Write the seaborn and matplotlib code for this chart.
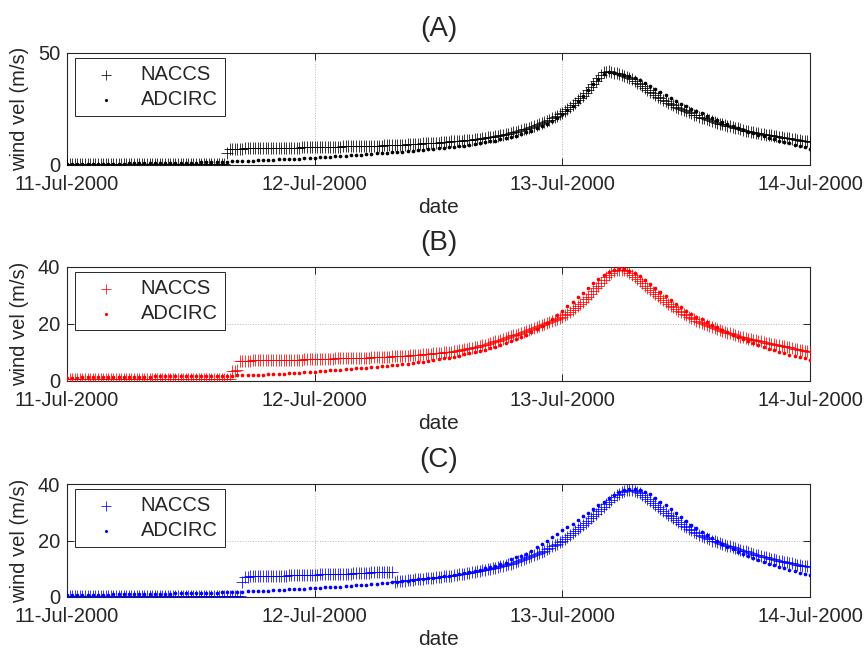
import numpy as np
import pandas as pd
import matplotlib
matplotlib.use("Agg")
import matplotlib.pyplot as plt
import seaborn as sns

# ---------------- data ----------------
# NACCS: 15-min samples, ADCIRC: 30-min samples, 11-Jul-2000 00:00 .. 14-Jul-2000 00:00
start_time = "2000-07-11 00:00"
panel_titles = ["(A)", "(B)", "(C)"]
series_labels = ["NACCS", "ADCIRC"]
x_tick_labels = ["11-Jul-2000", "12-Jul-2000", "13-Jul-2000", "14-Jul-2000"]

naccs_a = [
    0.5, 0.5, 0.5, 0.5, 0.5, 0.5, 0.5, 0.5, 0.5, 0.5, 0.5, 0.5,
    0.5, 0.5, 0.5, 0.5, 0.5, 0.5, 0.5, 0.5, 0.5, 0.5, 0.5, 0.5,
    0.5, 0.5, 0.5, 0.5, 0.5, 0.5, 0.5, 0.5, 0.5, 0.5, 0.5, 0.5,
    0.5, 0.5, 0.5, 0.5, 0.5, 0.5, 0.5, 0.5, 0.5, 0.5, 0.5, 0.5,
    0.5, 0.5, 0.5, 0.5, 0.5, 0.5, 0.5, 0.5, 0.5, 0.5, 0.5, 0.5,
    0.5, 0.5, 5.4, 7.2, 7.2, 7.3, 7.3, 7.3, 7.3, 7.4, 7.4, 7.4,
    7.4, 7.5, 7.5, 7.5, 7.5, 7.5, 7.5, 7.6, 7.6, 7.6, 7.6, 7.7,
    7.7, 7.7, 7.7, 7.8, 7.8, 7.8, 7.8, 7.9, 7.9, 7.9, 7.9, 8.0,
    8.0, 8.0, 8.0, 8.1, 8.1, 8.1, 8.1, 8.2, 8.2, 8.2, 8.2, 8.3,
    8.3, 8.3, 8.3, 8.4, 8.4, 8.4, 8.4, 8.5, 8.5, 8.5, 8.5, 8.6,
    8.6, 8.65, 8.7, 8.75, 8.8, 8.85, 8.9, 8.95, 9.0, 9.05, 9.1, 9.15,
    9.2, 9.25, 9.3, 9.4, 9.5, 9.55, 9.6, 9.65, 9.7, 9.8, 9.9, 9.95,
    10.0, 10.1, 10.2, 10.3, 10.4, 10.5, 10.6, 10.7, 10.8, 10.9, 11.0, 11.1,
    11.2, 11.35, 11.5, 11.65, 11.8, 11.95, 12.1, 12.3, 12.5, 12.7, 12.9, 13.1,
    13.3, 13.55, 13.8, 14.05, 14.3, 14.6, 14.9, 15.2, 15.5, 15.85, 16.2, 16.6,
    17.0, 17.4, 17.8, 18.25, 18.7, 19.2, 19.7, 20.25, 20.8, 21.4, 22.0, 22.7,
    23.4, 24.2, 25.0, 25.9, 26.8, 27.8, 28.8, 29.9, 31.0, 32.2, 33.5, 34.8,
    36.2, 37.6, 39.0, 40.3, 41.5, 41.7, 41.8, 41.5, 41.2, 40.9, 40.6, 40.2,
    39.8, 39.3, 38.8, 38.2, 37.5, 36.8, 36.0, 35.2, 34.4, 33.6, 32.8, 32.0,
    31.2, 30.5, 29.8, 29.1, 28.4, 27.8, 27.2, 26.6, 26.0, 25.5, 25.0, 24.5,
    24.0, 23.5, 23.0, 22.5, 22.1, 21.6, 21.2, 20.8, 20.4, 20.0, 19.6, 19.2,
    18.9, 18.5, 18.2, 17.8, 17.5, 17.2, 16.9, 16.6, 16.3, 16.0, 15.7, 15.4,
    15.2, 14.9, 14.7, 14.4, 14.2, 14.0, 13.8, 13.6, 13.4, 13.2, 13.0, 12.8,
    12.6, 12.4, 12.2, 12.0, 11.9, 11.7, 11.5, 11.3, 11.1, 10.9, 10.8, 10.6,
    10.4,
]
adcirc_a = [
    0.4, 0.4, 0.4, 0.4, 0.5, 0.5, 0.5, 0.5, 0.6, 0.6,
    0.6, 0.6, 0.7, 0.7, 0.7, 0.8, 0.8, 0.8, 0.9, 0.9,
    0.9, 1.0, 1.0, 1.0, 1.1, 1.1, 1.2, 1.2, 1.2, 1.3,
    1.4, 1.5, 1.6, 1.7, 1.8, 1.9, 2.0, 2.1, 2.2, 2.3,
    2.4, 2.5, 2.6, 2.7, 2.8, 2.9, 3.0, 3.1, 3.3, 3.4,
    3.6, 3.7, 3.9, 4.0, 4.2, 4.3, 4.5, 4.6, 4.8, 5.0,
    5.2, 5.3, 5.5, 5.7, 5.9, 6.0, 6.2, 6.4, 6.6, 6.8,
    7.0, 7.2, 7.4, 7.6, 7.9, 8.1, 8.4, 8.7, 9.0, 9.3,
    9.7, 10.1, 10.5, 10.9, 11.4, 11.9, 12.5, 13.1, 13.8, 14.6,
    15.4, 16.4, 17.4, 18.5, 19.8, 21.2, 22.8, 24.5, 26.5, 28.7,
    31.0, 33.5, 36.0, 38.5, 40.5, 41.3, 41.0, 40.6, 40.2, 39.7,
    39.0, 38.0, 36.8, 35.4, 34.0, 32.6, 31.2, 29.8, 28.5, 27.3,
    26.2, 25.1, 24.0, 23.0, 22.0, 21.0, 20.0, 19.1, 18.2, 17.3,
    16.5, 15.7, 14.9, 14.2, 13.5, 12.8, 12.1, 11.5, 10.9, 10.3,
    9.7, 9.1, 8.5, 8.0, 7.2,
]
naccs_b = [
    0.6, 0.6, 0.6, 0.6, 0.6, 0.6, 0.6, 0.6, 0.6, 0.6, 0.6, 0.6,
    0.6, 0.6, 0.6, 0.6, 0.6, 0.6, 0.6, 0.6, 0.6, 0.6, 0.6, 0.6,
    0.6, 0.6, 0.6, 0.6, 0.6, 0.6, 0.6, 0.6, 0.6, 0.6, 0.6, 0.6,
    0.6, 0.6, 0.6, 0.6, 0.6, 0.6, 0.6, 0.6, 0.6, 0.6, 0.6, 0.6,
    0.6, 0.6, 0.6, 0.6, 0.6, 0.6, 0.6, 0.6, 0.6, 0.6, 0.6, 0.6,
    0.6, 0.6, 0.6, 0.6, 3.4, 3.6, 4.0, 7.0, 7.0, 7.1, 7.1, 7.1,
    7.2, 7.2, 7.2, 7.2, 7.3, 7.3, 7.3, 7.3, 7.3, 7.3, 7.4, 7.4,
    7.4, 7.4, 7.5, 7.5, 7.5, 7.5, 7.5, 7.5, 7.6, 7.6, 7.6, 7.6,
    7.7, 7.7, 7.7, 7.7, 7.8, 7.8, 7.8, 7.8, 7.9, 7.9, 7.9, 7.9,
    8.0, 8.0, 8.0, 8.0, 8.1, 8.1, 8.1, 8.1, 8.2, 8.2, 8.25, 8.3,
    8.3, 8.35, 8.4, 8.45, 8.5, 8.55, 8.6, 8.65, 8.7, 8.75, 8.8, 8.85,
    8.9, 8.95, 9.0, 9.1, 9.2, 9.25, 9.3, 9.4, 9.5, 9.6, 9.65, 9.7,
    9.8, 9.9, 10.0, 10.1, 10.2, 10.35, 10.5, 10.65, 10.8, 10.95, 11.1, 11.3,
    11.5, 11.7, 11.9, 12.1, 12.3, 12.55, 12.8, 13.05, 13.3, 13.6, 13.9, 14.2,
    14.5, 14.8, 15.1, 15.4, 15.7, 16.0, 16.3, 16.65, 17.0, 17.35, 17.7, 18.05,
    18.4, 18.7, 19.0, 19.3, 19.6, 19.95, 20.3, 20.65, 21.0, 21.4, 21.8, 22.2,
    22.6, 23.1, 23.6, 24.2, 24.8, 25.5, 26.2, 27.0, 27.8, 28.7, 29.6, 30.5,
    31.5, 32.5, 33.5, 34.5, 35.5, 36.4, 37.2, 37.9, 38.5, 38.9, 39.1, 39.1,
    38.9, 38.5, 38.0, 37.3, 36.6, 35.9, 35.1, 34.3, 33.5, 32.7, 32.0, 31.3,
    30.6, 29.9, 29.2, 28.5, 27.8, 27.1, 26.4, 25.8, 25.2, 24.6, 24.1, 23.6,
    23.1, 22.6, 22.1, 21.6, 21.2, 20.8, 20.4, 20.0, 19.6, 19.2, 18.9, 18.6,
    18.2, 17.9, 17.6, 17.3, 17.0, 16.7, 16.4, 16.1, 15.8, 15.5, 15.3, 15.1,
    14.9, 14.7, 14.5, 14.3, 14.1, 13.9, 13.7, 13.5, 13.3, 13.1, 12.9, 12.8,
    12.6, 12.4, 12.2, 12.0, 11.8, 11.6, 11.4, 11.2, 11.0, 10.8, 10.6, 10.45,
    10.3,
]
adcirc_b = [
    1.2, 1.2, 1.2, 1.3, 1.3, 1.3, 1.3, 1.4, 1.4, 1.4,
    1.4, 1.4, 1.5, 1.5, 1.5, 1.5, 1.5, 1.6, 1.6, 1.6,
    1.6, 1.6, 1.6, 1.7, 1.7, 1.7, 1.7, 1.8, 1.8, 1.8,
    1.8, 1.9, 1.9, 2.0, 2.0, 2.1, 2.1, 2.2, 2.2, 2.3,
    2.4, 2.5, 2.6, 2.7, 2.8, 2.9, 3.0, 3.1, 3.3, 3.4,
    3.6, 3.7, 3.9, 4.0, 4.2, 4.3, 4.4, 4.6, 4.7, 4.8,
    4.9, 5.1, 5.3, 5.5, 5.7, 5.9, 6.1, 6.3, 6.5, 6.8,
    7.0, 7.3, 7.6, 7.9, 8.2, 8.5, 8.9, 9.3, 9.7, 10.1,
    10.5, 11.0, 11.5, 12.0, 12.6, 13.2, 13.9, 14.6, 15.4, 16.2,
    17.2, 18.2, 19.3, 20.5, 21.8, 23.2, 24.7, 26.2, 27.8, 29.4,
    31.0, 32.7, 34.3, 35.8, 37.1, 38.2, 39.0, 39.5, 39.3, 38.7,
    37.8, 36.7, 35.4, 34.0, 32.6, 31.2, 29.8, 28.4, 27.1, 25.9,
    24.7, 23.6, 22.6, 21.6, 20.7, 19.8, 18.9, 18.0, 17.1, 16.3,
    15.5, 14.7, 14.0, 13.3, 12.6, 12.0, 11.4, 10.8, 10.3, 9.8,
    9.2, 8.7, 8.3, 7.9, 7.4,
]
naccs_c = [
    0.5, 0.5, 0.5, 0.5, 0.5, 0.5, 0.5, 0.5, 0.5, 0.5, 0.5, 0.5,
    0.5, 0.5, 0.5, 0.5, 0.5, 0.5, 0.5, 0.5, 0.5, 0.5, 0.5, 0.5,
    0.5, 0.5, 0.5, 0.5, 0.5, 0.5, 0.5, 0.5, 0.5, 0.5, 0.5, 0.5,
    0.5, 0.5, 0.5, 0.5, 0.5, 0.5, 0.5, 0.5, 0.5, 0.5, 0.5, 0.5,
    0.5, 0.5, 0.5, 0.5, 0.5, 0.5, 0.5, 0.5, 0.5, 0.5, 0.5, 0.5,
    0.5, 0.5, 0.5, 0.5, 0.5, 0.5, 0.5, 0.5, 5.4, 7.2, 7.2, 7.3,
    7.3, 7.3, 7.4, 7.4, 7.4, 7.4, 7.5, 7.5, 7.5, 7.5, 7.6, 7.6,
    7.6, 7.6, 7.7, 7.7, 7.7, 7.7, 7.8, 7.8, 7.8, 7.8, 7.9, 7.9,
    7.9, 7.9, 8.0, 8.0, 8.0, 8.0, 8.1, 8.1, 8.1, 8.1, 8.2, 8.2,
    8.2, 8.25, 8.3, 8.35, 8.4, 8.45, 8.5, 8.55, 8.6, 8.65, 8.7, 8.75,
    8.8, 8.85, 8.9, 8.95, 9.0, 9.0, 9.0, 5.4, 5.5, 5.6, 5.7, 5.8,
    5.9, 6.0, 6.1, 6.2, 6.3, 6.4, 6.5, 6.6, 6.7, 6.8, 6.9, 7.0,
    7.1, 7.2, 7.3, 7.4, 7.5, 7.6, 7.7, 7.85, 8.0, 8.15, 8.3, 8.45,
    8.6, 8.75, 8.9, 9.05, 9.2, 9.4, 9.6, 9.8, 10.0, 10.2, 10.4, 10.6,
    10.8, 11.05, 11.3, 11.55, 11.8, 12.1, 12.4, 12.7, 13.0, 13.35, 13.7, 14.05,
    14.4, 14.8, 15.2, 15.6, 16.0, 16.45, 16.9, 17.4, 17.9, 18.4, 18.9, 19.45,
    20.0, 20.6, 21.2, 21.85, 22.5, 23.2, 23.9, 24.65, 25.4, 26.2, 27.0, 27.8,
    28.6, 29.45, 30.3, 31.15, 32.0, 32.85, 33.7, 34.5, 35.3, 36.0, 36.6, 37.1,
    37.5, 37.8, 37.9, 37.8, 37.6, 37.2, 36.7, 36.1, 35.5, 34.8, 34.1, 33.4,
    32.7, 32.0, 31.3, 30.6, 29.9, 29.2, 28.5, 27.8, 27.1, 26.5, 25.9, 25.3,
    24.7, 24.1, 23.6, 23.1, 22.6, 22.1, 21.6, 21.2, 20.8, 20.4, 20.0, 19.7,
    19.4, 19.1, 18.8, 18.5, 18.2, 17.9, 17.6, 17.3, 17.0, 16.7, 16.45, 16.2,
    15.9, 15.6, 15.3, 15.0, 14.75, 14.5, 14.25, 14.0, 13.75, 13.5, 13.3, 13.1,
    12.9, 12.7, 12.5, 12.3, 12.1, 11.9, 11.7, 11.5, 11.3, 11.1, 10.9, 10.8,
    10.7,
]
adcirc_c = [
    0.6, 0.6, 0.6, 0.7, 0.7, 0.7, 0.8, 0.8, 0.8, 0.9,
    0.9, 0.9, 1.0, 1.0, 1.0, 1.1, 1.1, 1.1, 1.2, 1.2,
    1.2, 1.3, 1.3, 1.3, 1.4, 1.4, 1.4, 1.5, 1.5, 1.5,
    1.6, 1.6, 1.7, 1.8, 1.9, 2.0, 2.0, 2.1, 2.2, 2.3,
    2.4, 2.5, 2.6, 2.7, 2.8, 2.9, 3.0, 3.1, 3.2, 3.3,
    3.4, 3.5, 3.6, 3.7, 3.9, 4.0, 4.1, 4.2, 4.4, 4.5,
    4.7, 4.8, 5.0, 5.2, 5.4, 5.6, 5.8, 6.0, 6.2, 6.4,
    6.6, 6.8, 7.0, 7.3, 7.6, 7.9, 8.2, 8.5, 8.9, 9.3,
    9.7, 10.1, 10.6, 11.1, 11.6, 12.2, 13.4, 14.0, 14.6, 15.2,
    16.4, 17.6, 18.8, 20.0, 21.2, 22.4, 23.6, 24.8, 26.0, 27.2,
    28.5, 29.8, 31.1, 32.4, 33.7, 34.9, 36.0, 37.0, 37.8, 38.3,
    38.4, 38.0, 37.3, 36.3, 35.1, 33.8, 32.4, 31.0, 29.6, 28.2,
    26.8, 25.5, 24.3, 23.1, 22.0, 20.9, 19.8, 18.8, 17.8, 16.9,
    16.0, 15.2, 14.4, 13.7, 13.0, 12.4, 11.8, 11.2, 10.6, 10.1,
    9.6, 9.1, 8.6, 8.2, 7.8,
]

panel_naccs = [naccs_a, naccs_b, naccs_c]
panel_adcirc = [adcirc_a, adcirc_b, adcirc_c]
panel_colors = ["black", "#ff0000", "#0000ff"]
panel_ylims = [(0, 50), (0, 40), (0, 40)]
panel_yticks = [[0, 50], [0, 20, 40], [0, 20, 40]]

# ---------------- styling ----------------
sns.set_theme(style="white")
plt.rcParams["font.family"] = ["Liberation Sans", "DejaVu Sans"]

fig = plt.figure(figsize=(8.65, 6.48), dpi=100)
W, H = 865.0, 648.0
axes_px = [(53, 165), (267, 381), (484, 597)]  # top, bottom in pixels
left_px, right_px = 67, 810

times_n = pd.date_range(start_time, periods=len(naccs_a), freq="15min")
times_a = pd.date_range(start_time, periods=len(adcirc_a), freq="30min")
axis_color = "#262626"

for i in range(3):
    top, bot = axes_px[i]
    ax = fig.add_axes([left_px / W, 1 - bot / H, (right_px - left_px) / W, (bot - top) / H])
    df_n = pd.DataFrame({"time": times_n, "wind": panel_naccs[i]})
    df_a = pd.DataFrame({"time": times_a, "wind": panel_adcirc[i]})
    c = panel_colors[i]
    sns.scatterplot(data=df_n, x="time", y="wind", marker="+", s=68, color=c,
                    linewidth=0.55, ax=ax, label=series_labels[0], zorder=3, legend=False)
    sns.scatterplot(data=df_a, x="time", y="wind", marker="o", s=7, color=c,
                    linewidth=0, ax=ax, label=series_labels[1], zorder=4, legend=False)

    ax.set_xlim(pd.Timestamp("2000-07-11"), pd.Timestamp("2000-07-14"))
    ax.set_ylim(*panel_ylims[i])
    tick_dates = pd.date_range("2000-07-11", periods=4, freq="D")
    ax.set_xticks(tick_dates)
    ax.set_xticklabels(x_tick_labels)
    ax.set_yticks(panel_yticks[i])

    ax.grid(True, linestyle=":", color="#b8b8b8", linewidth=0.7)
    ax.set_axisbelow(True)
    for sp in ax.spines.values():
        sp.set_color(axis_color)
        sp.set_linewidth(0.8)
        sp.set_visible(True)
    ax.tick_params(direction="in", length=5, width=0.7, color=axis_color,
                   top=True, right=True, bottom=True, left=True,
                   labelsize=14.5, pad=7)
    ax.tick_params(axis="y", pad=5)

    ax.set_xlabel("date", fontsize=15, labelpad=3)
    ax.set_ylabel("wind vel (m/s)", fontsize=14.5, labelpad=6)
    ax.set_title(panel_titles[i], fontsize=20, pad=12)

    handles, labels = ax.get_legend_handles_labels()
    leg = ax.legend(handles, labels, loc="upper left", bbox_to_anchor=(0.011, 0.955),
                    fontsize=14.5, frameon=True, fancybox=False, framealpha=1,
                    edgecolor=axis_color, borderpad=0.35, handlelength=2.4,
                    handletextpad=0.5, labelspacing=0.3, borderaxespad=0,
                    markerscale=0.85)
    leg.get_frame().set_linewidth(0.7)

fig.savefig("out.png", dpi=100)
